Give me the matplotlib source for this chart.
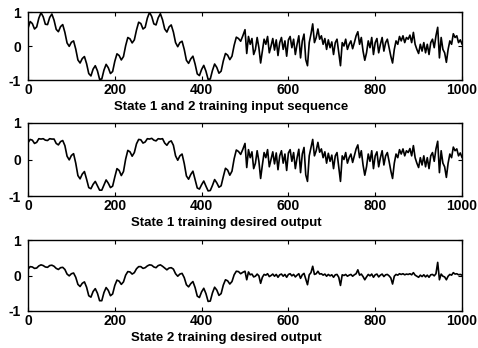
import numpy as np
import matplotlib
matplotlib.use("Agg")
import matplotlib.pyplot as plt

plt.rcParams['font.family'] = ['Liberation Sans', 'DejaVu Sans']

# ---------------- data ----------------
smooth_step = 5      # samples 0..495
noisy_step = 4       # samples 500..1000

titles = ["State 1 and 2 training input sequence",
          "State 1 training desired output",
          "State 2 training desired output"]
xticks = [0, 200, 400, 600, 800, 1000]
yticks = [-1, 0, 1]

input_smooth = [
    0.52, 0.72, 0.66, 0.50, 0.56, 0.82, 0.98, 0.86, 0.64, 0.63,
    0.84, 0.94, 0.76, 0.49, 0.42, 0.57, 0.63, 0.40, 0.09, -0.01,
    0.11, 0.15, -0.09, -0.41, -0.50, -0.37, -0.31, -0.52, -0.81, -0.88,
    -0.68, -0.58, -0.73, -0.98, -0.97, -0.71, -0.54, -0.64, -0.81, -0.75,
    -0.45, -0.23, -0.28, -0.41, -0.31, 0.01, 0.25, 0.21, 0.09, 0.18,
    0.47, 0.70, 0.66, 0.50, 0.55, 0.82, 0.99, 0.87, 0.65, 0.62,
    0.83, 0.95, 0.77, 0.50, 0.41, 0.56, 0.62, 0.41, 0.10, -0.02,
    0.10, 0.14, -0.10, -0.42, -0.51, -0.38, -0.30, -0.53, -0.82, -0.87,
    -0.69, -0.57, -0.74, -0.98, -0.97, -0.72, -0.53, -0.63, -0.80, -0.74,
    -0.44, -0.22, -0.27, -0.40, -0.30, 0.02, 0.26, 0.22, 0.14, 0.30]

input_noisy = [
    0.48, -0.22, 0.28, 0.05, 0.22, -0.25, -0.10, 0.25, -0.05, -0.50,
    -0.15, 0.20, 0.05, 0.28, -0.20, 0.00, 0.22, -0.12, 0.18, -0.28,
    0.10, 0.25, -0.10, 0.15, -0.30, 0.18, 0.28, -0.05, 0.20, -0.25,
    0.05, 0.30, -0.35, 0.15, 0.35, -0.40, -0.58, 0.10, 0.35, 0.65,
    0.10, 0.25, 0.50, 0.20, 0.30, 0.05, 0.22, -0.10, 0.18, -0.05,
    0.12, -0.25, 0.10, 0.20, -0.20, -0.58, 0.10, 0.00, 0.20, -0.10,
    0.05, 0.15, -0.08, 0.10, 0.30, 0.42, 0.05, 0.25, -0.15, -0.42,
    -0.20, 0.15, -0.05, 0.25, -0.25, 0.10, 0.22, -0.20, 0.05, 0.25,
    -0.15, 0.10, 0.20, -0.05, -0.30, -0.50, -0.10, 0.15, 0.05, 0.28,
    0.15, 0.30, 0.10, 0.25, 0.20, 0.32, 0.10, 0.40, 0.05, -0.10,
    -0.22, 0.05, -0.15, 0.10, -0.20, 0.05, -0.25, 0.10, 0.20, -0.05,
    0.30, 0.55, -0.35, 0.25, -0.10, -0.20, -0.48, -0.10, 0.15, 0.05,
    0.36, 0.25, 0.30, 0.10, 0.18, 0.06]

state1_smooth = [
    0.46, 0.55, 0.53, 0.44, 0.47, 0.57, 0.56, 0.57, 0.53, 0.52,
    0.57, 0.56, 0.56, 0.44, 0.40, 0.49, 0.52, 0.38, 0.09, -0.01,
    0.11, 0.16, -0.10, -0.44, -0.53, -0.40, -0.33, -0.54, -0.77, -0.80,
    -0.68, -0.60, -0.72, -0.84, -0.84, -0.70, -0.56, -0.65, -0.77, -0.73,
    -0.48, -0.25, -0.30, -0.44, -0.33, 0.01, 0.25, 0.21, 0.09, 0.19,
    0.43, 0.55, 0.54, 0.45, 0.48, 0.57, 0.56, 0.58, 0.53, 0.51,
    0.57, 0.56, 0.57, 0.45, 0.39, 0.48, 0.51, 0.39, 0.10, -0.02,
    0.10, 0.15, -0.11, -0.45, -0.54, -0.41, -0.32, -0.55, -0.78, -0.81,
    -0.69, -0.59, -0.73, -0.86, -0.85, -0.71, -0.55, -0.64, -0.76, -0.72,
    -0.47, -0.24, -0.29, -0.43, -0.32, 0.02, 0.26, 0.22, 0.14, 0.28]

state1_noisy = [
    0.44, -0.22, 0.27, 0.05, 0.21, -0.25, -0.10, 0.24, -0.05, -0.52,
    -0.15, 0.19, 0.05, 0.27, -0.20, 0.00, 0.21, -0.12, 0.18, -0.28,
    0.10, 0.24, -0.10, 0.15, -0.30, 0.18, 0.27, -0.05, 0.19, -0.25,
    0.05, 0.28, -0.36, 0.15, 0.33, -0.42, -0.60, 0.10, 0.33, 0.55,
    0.10, 0.24, 0.47, 0.20, 0.29, 0.05, 0.21, -0.10, 0.17, -0.05,
    0.12, -0.25, 0.10, 0.19, -0.20, -0.60, 0.10, 0.00, 0.19, -0.10,
    0.05, 0.15, -0.08, 0.10, 0.29, 0.40, 0.05, 0.24, -0.15, -0.43,
    -0.20, 0.15, -0.05, 0.24, -0.25, 0.10, 0.21, -0.20, 0.05, 0.24,
    -0.15, 0.10, 0.19, -0.05, -0.31, -0.52, -0.10, 0.15, 0.05, 0.27,
    0.15, 0.29, 0.10, 0.24, 0.19, 0.30, 0.10, 0.38, 0.05, -0.10,
    -0.22, 0.05, -0.15, 0.10, -0.20, 0.05, -0.25, 0.10, 0.19, -0.05,
    0.29, 0.50, -0.36, 0.24, -0.10, -0.20, -0.49, -0.10, 0.15, 0.05,
    0.34, 0.24, 0.29, 0.10, 0.18, 0.06]

state2_smooth = [
    0.18, 0.25, 0.24, 0.20, 0.21, 0.27, 0.30, 0.28, 0.24, 0.23,
    0.28, 0.29, 0.26, 0.20, 0.17, 0.22, 0.23, 0.17, 0.04, -0.01,
    0.05, 0.07, -0.05, -0.25, -0.31, -0.22, -0.18, -0.33, -0.57, -0.61,
    -0.45, -0.37, -0.50, -0.71, -0.71, -0.48, -0.34, -0.42, -0.57, -0.52,
    -0.28, -0.13, -0.16, -0.25, -0.18, 0.01, 0.11, 0.10, 0.04, 0.08,
    0.19, 0.25, 0.25, 0.20, 0.22, 0.27, 0.30, 0.29, 0.24, 0.22,
    0.28, 0.30, 0.26, 0.21, 0.16, 0.21, 0.22, 0.18, 0.05, -0.02,
    0.04, 0.06, -0.06, -0.26, -0.32, -0.23, -0.17, -0.34, -0.58, -0.62,
    -0.46, -0.36, -0.51, -0.73, -0.72, -0.49, -0.33, -0.41, -0.56, -0.51,
    -0.27, -0.12, -0.15, -0.24, -0.17, 0.02, 0.12, 0.11, 0.05, 0.09]

state2_noisy = [
    0.12, -0.12, 0.10, 0.02, 0.04, -0.04, -0.02, 0.04, -0.01, -0.22,
    -0.05, 0.03, 0.01, 0.05, -0.03, 0.00, 0.04, -0.02, 0.03, -0.05,
    0.02, 0.04, -0.02, 0.03, -0.05, 0.03, 0.05, -0.01, 0.03, -0.04,
    0.01, 0.05, -0.08, 0.02, 0.06, -0.10, -0.26, 0.02, 0.08, 0.26,
    0.03, 0.05, 0.12, 0.04, 0.05, 0.01, 0.04, -0.02, 0.03, -0.01,
    0.02, -0.05, 0.02, 0.03, -0.05, -0.28, 0.02, 0.00, 0.03, -0.02,
    0.01, 0.03, -0.02, 0.02, 0.05, 0.16, 0.01, 0.04, -0.03, -0.12,
    -0.04, 0.03, -0.01, 0.04, -0.05, 0.02, 0.04, -0.04, 0.01, 0.04,
    -0.03, 0.02, 0.03, -0.01, -0.07, -0.24, -0.02, 0.03, 0.01, 0.05,
    0.03, 0.05, 0.02, 0.04, 0.03, 0.05, 0.02, 0.08, 0.01, -0.02,
    -0.05, 0.01, -0.03, 0.02, -0.04, 0.01, -0.05, 0.02, 0.03, -0.01,
    0.05, 0.37, -0.12, 0.04, -0.02, -0.04, -0.12, -0.02, 0.03, 0.01,
    0.08, 0.04, 0.05, 0.02, 0.03, 0.01]

# ---------------- figure ----------------
fig = plt.figure(figsize=(4.78, 3.48), dpi=100)
fig.patch.set_facecolor('white')

# axes boxes in pixels: (top, bottom)
rows = [(12, 80), (123, 196), (240, 311)]
label_centers = [231, 226, 226]   # horizontal centre of the subplot captions (px)
series = [(input_smooth, input_noisy),
          (state1_smooth, state1_noisy),
          (state2_smooth, state2_noisy)]
left_px, right_px = 28, 462

for (top, bot), lc, (s, n), title in zip(rows, label_centers, series, titles):
    h = bot - top
    ax = fig.add_axes([left_px / 478, 1 - bot / 348,
                       (right_px - left_px) / 478, h / 348])
    xs = np.arange(len(s)) * smooth_step
    xn = 500 + np.arange(len(n)) * noisy_step
    x = np.concatenate([xs, xn])
    y = np.concatenate([s, n])
    ax.plot(x, y, color='black', linewidth=1.2)
    ax.set_xlim(0, 1000)
    ax.set_ylim(-1, 1)
    ax.set_xticks(xticks)
    ax.set_yticks(yticks)
    ax.set_xticklabels([str(t) for t in xticks], fontsize=10, fontweight='bold')
    ax.set_yticklabels([str(t) for t in yticks], fontsize=10, fontweight='bold')
    ax.tick_params(direction='in', top=True, right=True, length=3, width=0.8,
                   pad=2)
    ax.tick_params(axis='y', pad=5)
    for sp in ax.spines.values():
        sp.set_linewidth(1.0)
    ax.set_xlabel(title, fontsize=9.5, fontweight='bold')
    ax.xaxis.label.set_va('center')
    ax.xaxis.set_label_coords((lc - left_px) / (right_px - left_px), -27 / h)

fig.savefig('out.png', dpi=100, facecolor='white')
